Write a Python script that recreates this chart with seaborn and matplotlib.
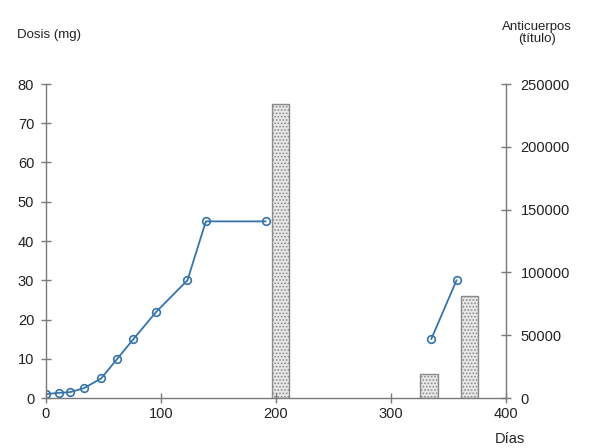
import matplotlib
matplotlib.use("Agg")
import matplotlib.pyplot as plt
import seaborn as sns
import pandas as pd

# Dose data (left axis, mg)
dose_days_1 = [0, 11, 21, 33, 48, 62, 76, 96, 123, 139, 191]
dose_mg_1 = [1, 1.3, 1.5, 2.5, 5, 10, 15, 22, 30, 45, 45]
dose_days_2 = [335, 357]
dose_mg_2 = [15, 30]

# Antibody titers (right axis)
titer_days = [204, 333, 368]
titer_values = [234000, 19000, 81000]

x_ticks = [0, 100, 200, 300, 400]
y_ticks = [0, 10, 20, 30, 40, 50, 60, 70, 80]
y2_ticks = [0, 50000, 100000, 150000, 200000, 250000]

sns.set_theme(style="white")
plt.rcParams['font.family'] = ['Liberation Sans', 'DejaVu Sans']
plt.rcParams['hatch.color'] = '#c4c4c4'
plt.rcParams['hatch.linewidth'] = 0.8

fig = plt.figure(figsize=(5.99, 4.48), dpi=100)
ax = fig.add_axes([46/599, 1-398/448, (506-46)/599, (398-84)/448])
ax2 = ax.twinx()

# bars on right axis
bars = ax2.bar(titer_days, titer_values, width=15, color='#e8e8e8', edgecolor='#8a8a8a',
               linewidth=1.0, hatch='.....', zorder=1)

df = pd.DataFrame({
    'day': dose_days_1 + dose_days_2,
    'dose': dose_mg_1 + dose_mg_2,
    'seg': [1]*len(dose_days_1) + [2]*len(dose_days_2),
})
ax2.set_zorder(0)
ax.set_zorder(1)
ax.patch.set_visible(False)
sns.lineplot(data=df, x='day', y='dose', units='seg', estimator=None, ax=ax,
             color='#3574ab', linewidth=1.3, marker='o', markersize=5.5,
             markerfacecolor='none', markeredgecolor='#3574ab', markeredgewidth=1.2)

ax.set_xlim(0, 400)
ax.set_ylim(0, 80)
ax2.set_ylim(0, 250000)
ax.set_xticks(x_ticks)
ax.set_yticks(y_ticks)
ax2.set_yticks(y2_ticks)
ax2.set_yticklabels([str(v) for v in y2_ticks])
ax.set_xlabel('')
ax.set_ylabel('')

for a in (ax, ax2):
    for s in a.spines.values():
        s.set_visible(False)
ax.spines['left'].set_visible(True)
ax.spines['bottom'].set_visible(True)
ax2.spines['right'].set_visible(True)
for s in (ax.spines['left'], ax.spines['bottom'], ax2.spines['right']):
    s.set_color('#7a7a7a')
    s.set_linewidth(1.0)

ax.tick_params(axis='both', direction='inout', length=7, width=1, color='#7a7a7a',
               labelsize=10.5, labelcolor='#222222', pad=3, left=True, bottom=True)
ax.tick_params(axis='y', pad=5)
ax2.tick_params(axis='y', direction='inout', length=7, width=1, color='#7a7a7a',
                labelsize=10.5, labelcolor='#222222', pad=7, right=True)

fig.text(17/599, 1-35/448, 'Dosis (mg)', fontsize=9.5, color='#222222', va='center', ha='left')
fig.text(537/599, 1-33/448, 'Anticuerpos\n(título)', fontsize=9.5, color='#222222',
         va='center', ha='center', linespacing=1.1)
fig.text(510/599, 1-439/448, 'Días', fontsize=10.5, color='#222222', va='center', ha='center')

fig.savefig('out.png', dpi=100)
